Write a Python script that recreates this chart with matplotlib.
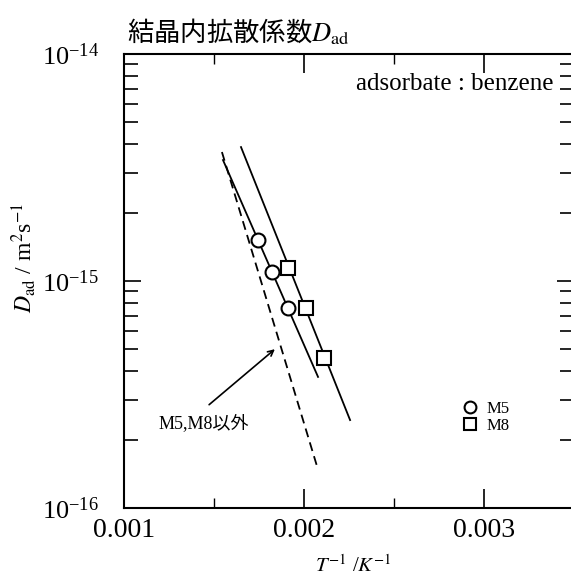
import numpy as np
import matplotlib
matplotlib.use("Agg")
import matplotlib.pyplot as plt
from matplotlib.ticker import LogLocator, NullFormatter

plt.rcParams['font.family'] = ['Liberation Serif', 'Noto Sans CJK JP']
plt.rcParams['mathtext.fontset'] = 'stix'

# 測定点 (1/T, D_ad)
m5_invT = [0.001744, 0.001822, 0.001911]
m5_D = [1.52e-15, 1.10e-15, 7.6e-16]
m8_invT = [0.001911, 0.002011, 0.002111]
m8_D = [1.14e-15, 7.6e-16, 4.6e-16]

# 近似直線の両端
m5_fit_invT = [0.001550, 0.002078]
m5_fit_D = [3.41e-15, 3.78e-16]
m8_fit_invT = [0.001650, 0.002256]
m8_fit_D = [3.89e-15, 2.44e-16]
other_invT = [0.001544, 0.002072]
other_D = [3.70e-15, 1.53e-16]

x_ticks = [0.001, 0.002, 0.003]
x_tick_labels = ['0.001', '0.002', '0.003']
y_ticks = [1e-16, 1e-15, 1e-14]

fig = plt.figure(figsize=(5.71, 5.81), dpi=100)
ax = fig.add_axes([124 / 571, 73 / 581, 450 / 571, 454 / 581])

ax.plot(m5_fit_invT, m5_fit_D, color='black', lw=1.3)
ax.plot(m8_fit_invT, m8_fit_D, color='black', lw=1.3)
ax.plot(other_invT, other_D, color='black', lw=1.3, ls=(0, (5, 3)))
ax.plot(m5_invT, m5_D, 'o', ms=10, mfc='white', mec='black', mew=1.5, label='M5')
ax.plot(m8_invT, m8_D, 's', ms=10, mfc='white', mec='black', mew=1.5, label='M8')

ax.set_yscale('log')
ax.set_xlim(0.001, 0.0035)
ax.set_ylim(1e-16, 1e-14)
ax.set_yticks(y_ticks)
ax.yaxis.set_minor_locator(LogLocator(base=10, subs=np.arange(2, 10)))
ax.yaxis.set_minor_formatter(NullFormatter())
ax.set_xticks(x_ticks)
ax.set_xticklabels(x_tick_labels)
ax.set_xticks([0.0015, 0.0025], minor=True)

ax.tick_params(axis='both', which='both', direction='in', top=True, right=True)
ax.tick_params(axis='x', which='major', length=14, width=1.2, labelsize=20, pad=7)
ax.tick_params(axis='x', which='minor', length=7, width=1.0)
ax.tick_params(axis='y', which='major', length=12, width=1.2, labelsize=19, pad=18)
ax.tick_params(axis='y', which='minor', length=10, width=1.2)
for sp in ax.spines.values():
    sp.set_linewidth(1.5)

ax.set_xlabel('$T^{-1}$ /$K^{-1}$', fontsize=15)
ax.xaxis.set_label_coords(0.509, -0.105)
ax.set_ylabel('$D_{\\rm ad}$ / m$^2$s$^{-1}$', fontsize=17)
ax.yaxis.set_label_coords(-0.19, 0.55)

ax.text(0.955, 0.935, 'adsorbate : benzene', transform=ax.transAxes,
        ha='right', va='center', fontsize=18)

# M5,M8以外 の矢印
ax.annotate('', xy=(0.00185, 5.1e-16), xytext=(0.001461, 2.8e-16),
            arrowprops=dict(arrowstyle='->', color='black', lw=1.2))
ax.text(0.001189, 2.37e-16, 'M5,M8以外', fontsize=13, ha='left', va='center')

leg = ax.legend(loc='center left', bbox_to_anchor=(0.72, 0.2), frameon=False,
                fontsize=12, handlelength=0.8, handletextpad=0.6,
                labelspacing=0.05, markerscale=0.85)

fig.text(127 / 571, 1 - 32 / 581, '結晶内拡散係数$D_{\\rm ad}$', fontsize=19,
         ha='left', va='center', family=['Noto Sans CJK JP', 'DejaVu Sans'])

fig.savefig('out.png', dpi=100)
